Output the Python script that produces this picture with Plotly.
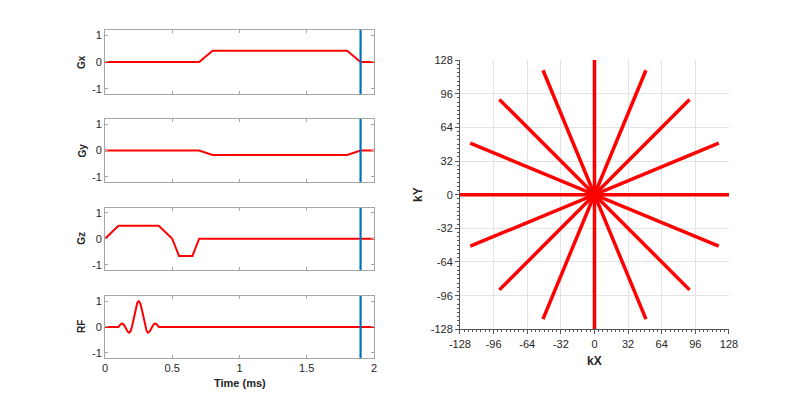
import plotly.graph_objects as go
import math

# ---------------- data ----------------
gx_t = [0, 0.7, 0.8, 1.8, 1.9, 2.0]
gx_v = [0, 0, 0.42, 0.42, 0, 0]
gy_t = [0, 0.7, 0.8, 1.8, 1.9, 2.0]
gy_v = [0, 0, -0.17, -0.17, 0, 0]
gz_t = [0, 0.1, 0.4, 0.5, 0.55, 0.65, 0.7, 2.0]
gz_v = [0, 0.5, 0.5, 0, -0.66, -0.66, 0, 0]
rf_t = [0, 0.10, 0.11, 0.12, 0.13, 0.14, 0.15, 0.16, 0.17, 0.18, 0.19, 0.20,
        0.21, 0.22, 0.23, 0.24, 0.25, 0.26, 0.27, 0.28, 0.29, 0.30, 0.31, 0.32,
        0.33, 0.34, 0.35, 0.36, 0.37, 0.38, 0.39, 0.40, 2.0]
rf_v = [0, 0, 0.07, 0.12, 0.13, 0.09, 0, -0.10, -0.19, -0.22, -0.16, 0,
        0.23, 0.50, 0.76, 0.94, 1.0, 0.94, 0.76, 0.50, 0.23, 0, -0.16, -0.22,
        -0.19, -0.10, 0, 0.09, 0.13, 0.12, 0.07, 0, 0]
marker_time = 1.9
spoke_angles_deg = [0, 22.5, 45, 67.5, 90, 112.5, 135, 157.5]
k_radius = 128
k_ticks = [-128, -96, -64, -32, 0, 32, 64, 96, 128]
k_tick_labels = ["-128", "-96", "-64", "-32", "0", "32", "64", "96", "128"]
time_ticks = [0, 0.5, 1, 1.5, 2]
time_tick_labels = ["0", "0.5", "1", "1.5", "2"]
g_ticks = [-1, 0, 1]
g_tick_labels = ["-1", "0", "1"]
panel_names = ["Gx", "Gy", "Gz", "RF"]

RED = "#FF0000"
BLUE = "#0072BD"
FONT = "Liberation Sans, Arial, sans-serif"
TXT = "#262626"
AXC = "#a6a6a6"

fig = go.Figure()

series = [(gx_t, gx_v), (gy_t, gy_v), (gz_t, gz_v), (rf_t, rf_v)]
ydoms = [[0.7662, 0.9254], [0.5473, 0.7040], [0.3284, 0.4838], [0.1095, 0.2637]]
xdom = [0.1306, 0.4652]
annotations = []

for i, ((t, v), name) in enumerate(zip(series, panel_names)):
    n = i + 1
    xa = "x" if n == 1 else f"x{n}"
    ya = "y" if n == 1 else f"y{n}"
    fig.add_trace(go.Scatter(x=t, y=v, mode="lines", line=dict(color=RED, width=2),
                             xaxis=xa, yaxis=ya, showlegend=False, hoverinfo="skip"))
    fig.add_trace(go.Scatter(x=[marker_time, marker_time], y=[-1.2, 1.2], mode="lines",
                             line=dict(color=BLUE, width=2.2),
                             xaxis=xa, yaxis=ya, showlegend=False, hoverinfo="skip"))
    xkey = "xaxis" if n == 1 else f"xaxis{n}"
    ykey = "yaxis" if n == 1 else f"yaxis{n}"
    fig.update_layout(**{
        xkey: dict(domain=xdom, anchor=ya, range=[0, 2], tickvals=time_ticks,
                   ticktext=time_tick_labels if n == 4 else [""] * 5,
                   ticks="inside", ticklen=3, tickcolor=AXC, showline=True,
                   linecolor=AXC, linewidth=1, mirror="ticks", showgrid=False,
                   zeroline=False, automargin=False,
                   tickfont=dict(family=FONT, size=11, color=TXT)),
        ykey: dict(domain=ydoms[i], anchor=xa, range=[-1.2, 1.2], tickvals=g_ticks,
                   ticktext=g_tick_labels,
                   ticks="inside", ticklen=3, tickcolor=AXC, showline=True,
                   linecolor=AXC, linewidth=1, mirror="ticks", showgrid=False,
                   zeroline=False, automargin=False,
                   tickfont=dict(family=FONT, size=11, color=TXT)),
    })
    annotations.append(dict(text=f"<b>{name}</b>", xref="paper", yref="paper",
                            x=82 / 804, y=sum(ydoms[i]) / 2, xanchor="center",
                            yanchor="middle", textangle=-90, showarrow=False,
                            font=dict(family=FONT, size=10, color=TXT)))

annotations.append(dict(text="<b>Time (ms)</b>", xref="paper", yref="paper",
                        x=sum(xdom) / 2, y=1 - 383.3 / 402, xanchor="center",
                        yanchor="middle", showarrow=False,
                        font=dict(family=FONT, size=11, color=TXT)))

# k-space spokes
for ang in spoke_angles_deg:
    a = math.radians(ang)
    kx = [k_radius * math.cos(a), -k_radius * math.cos(a)]
    ky = [k_radius * math.sin(a), -k_radius * math.sin(a)]
    fig.add_trace(go.Scatter(x=kx, y=ky, mode="lines", line=dict(color=RED, width=3.5),
                             xaxis="x5", yaxis="y5", showlegend=False, hoverinfo="skip"))

kax = dict(range=[-128, 128], tickvals=k_ticks, ticktext=k_tick_labels,
           ticks="outside", ticklen=4,
           tickcolor="#555", showline=True, linecolor="#555", linewidth=1,
           showgrid=True, gridcolor="#e3e3e3", gridwidth=1, zeroline=False,
           automargin=False,
           minor=dict(tickvals=list(range(-128, 129, 4)), ticks="outside", ticklen=2,
                      tickcolor="#555", showgrid=False),
           tickfont=dict(family=FONT, size=11, color=TXT))
kxdom = [0.5721, 0.9067]
kydom = [0.1808, 0.8507]
fig.update_layout(
    xaxis5=dict(domain=kxdom, anchor="y5", **kax),
    yaxis5=dict(domain=kydom, anchor="x5", **kax),
)
annotations.append(dict(text="<b>kX</b>", xref="paper", yref="paper",
                        x=sum(kxdom) / 2, y=1 - 360.7 / 402, xanchor="center",
                        yanchor="middle", showarrow=False,
                        font=dict(family=FONT, size=12, color=TXT)))
annotations.append(dict(text="<b>kY</b>", xref="paper", yref="paper",
                        x=417.3 / 804, y=sum(kydom) / 2, xanchor="center",
                        yanchor="middle", textangle=-90, showarrow=False,
                        font=dict(family=FONT, size=12, color=TXT)))

fig.update_layout(width=804, height=402, margin=dict(l=0, r=0, t=0, b=0),
                  paper_bgcolor="white", plot_bgcolor="white",
                  annotations=annotations)
fig.write_html("out.html")
